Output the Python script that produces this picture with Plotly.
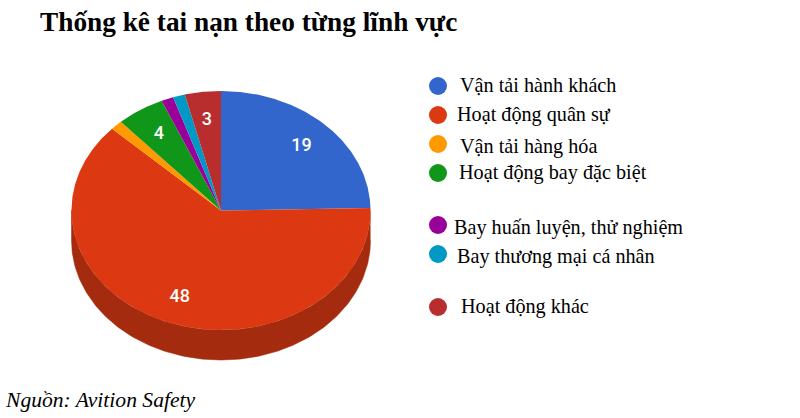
import numpy as np
import plotly.graph_objects as go

categories = ["Vận tải hành khách", "Hoạt động quân sự", "Vận tải hàng hóa", "Hoạt động bay đặc biệt",
              "Bay huấn luyện, thử nghiệm", "Bay thương mại cá nhân", "Hoạt động khác"]
values = [19, 48, 1, 4, 1, 1, 3]
colors = ["#3366CC", "#DC3912", "#FF9900", "#109618", "#990099", "#0099C6", "#B82E2E"]
side_color = "#A52B0E"
label_threshold = 3

CX, CY, RX, RY, DEPTH = 221, 210.5, 149.5, 119.5, 30
legend_marker_x = 438
legend_marker_y = [86, 115, 144, 173, 225, 254, 307]
legend_text_x = [460, 457, 460, 459, 454, 457, 461]
legend_text_y = [84.5, 114, 146, 172.5, 227, 256, 306]


def pt(a, dy=0.0, r=1.0):
    a = np.radians(a)
    return CX + RX * r * np.sin(a), CY - RY * r * np.cos(a) + dy


fig = go.Figure()
total = sum(values)
bounds = np.concatenate([[0], np.cumsum(values)]) * 360.0 / total

# side wall (only the part of each slice facing the viewer)
for i, c in enumerate(colors):
    lo, hi = max(bounds[i], 90), min(bounds[i + 1], 270)
    if hi <= lo:
        continue
    th = np.linspace(lo, hi, 200)
    x1, y1 = pt(th)
    x2, y2 = pt(th[::-1], DEPTH)
    fig.add_trace(go.Scatter(x=np.r_[x1, x2], y=np.r_[y1, y2], mode="lines", fill="toself",
                             fillcolor=side_color, line=dict(width=0.5, color=side_color),
                             hoverinfo="skip", showlegend=False))

# top face
for i, (name, v, c) in enumerate(zip(categories, values, colors)):
    th = np.linspace(bounds[i], bounds[i + 1], max(int(v * 12), 8))
    x, y = pt(th)
    fig.add_trace(go.Scatter(x=np.r_[CX, x, CX], y=np.r_[CY, y, CY], mode="lines", fill="toself",
                             fillcolor=c, line=dict(width=0, color=c), name=name,
                             hoverinfo="name", showlegend=False))

# value labels
lx, ly, lt = [], [], []
for i, v in enumerate(values):
    if v >= label_threshold:
        px, py = pt((bounds[i] + bounds[i + 1]) / 2, dy=1.5, r=0.77)
        lx.append(px); ly.append(py); lt.append(str(v))
fig.add_trace(go.Scatter(x=lx, y=ly, text=lt, mode="text", hoverinfo="skip", showlegend=False,
                         textfont=dict(family="Roboto", size=18, color="white", weight=500)))

# legend
fig.add_trace(go.Scatter(x=[legend_marker_x] * len(colors), y=legend_marker_y, mode="markers",
                         marker=dict(size=18, color=colors, line=dict(width=0)),
                         hoverinfo="skip", showlegend=False))
for t, x, y in zip(categories, legend_text_x, legend_text_y):
    fig.add_annotation(x=x, y=y, text=t, showarrow=False, xanchor="left", yanchor="middle",
                       xshift=-2, font=dict(family="Liberation Serif", size=20.2, color="black"))

fig.add_annotation(x=40, y=22, text="<b>Thống kê tai nạn theo từng lĩnh vực</b>", showarrow=False,
                   xanchor="left", yanchor="middle", xshift=-2,
                   font=dict(family="Liberation Serif", size=27.3, color="black"))
fig.add_annotation(x=5, y=400, text="<i>Nguồn: Avition Safety</i>", showarrow=False,
                   xanchor="left", yanchor="middle", xshift=-2,
                   font=dict(family="Liberation Serif", size=21.6, color="black"))

fig.update_layout(width=800, height=418, margin=dict(l=0, r=0, t=0, b=0),
                  paper_bgcolor="white", plot_bgcolor="white",
                  xaxis=dict(range=[0, 800], visible=False, fixedrange=True),
                  yaxis=dict(range=[418, 0], visible=False, fixedrange=True))
fig.write_html("out.html", config=dict(displayModeBar=False),
               post_script="document.body.style.margin='0';document.body.style.overflow='hidden';")
